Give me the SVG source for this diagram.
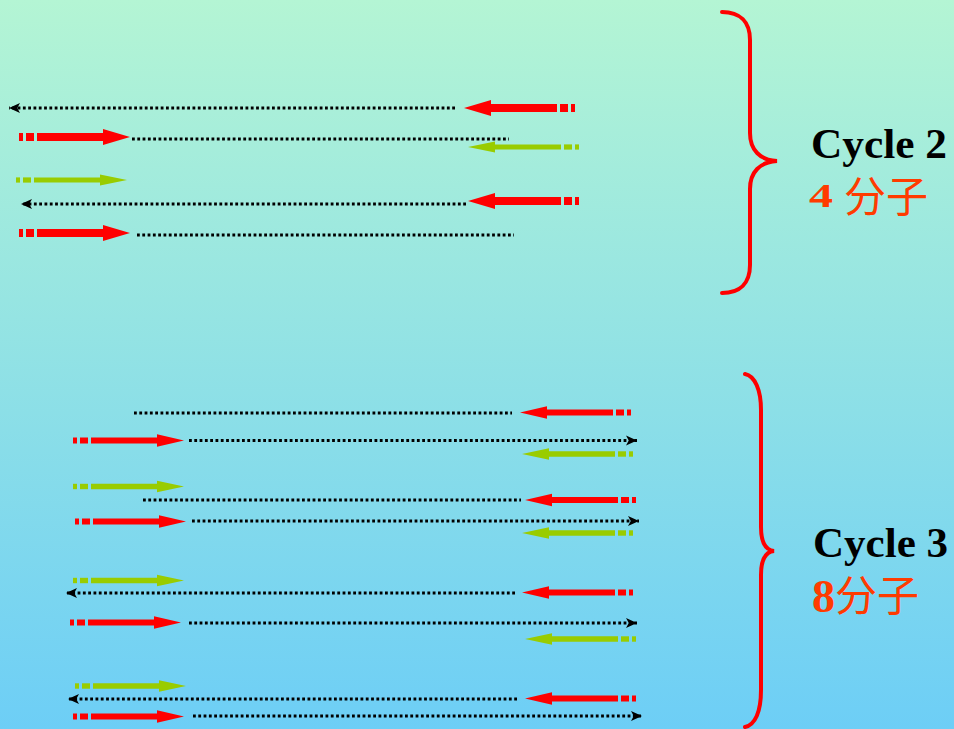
<svg xmlns="http://www.w3.org/2000/svg" xmlns:xlink="http://www.w3.org/1999/xlink" width="954" height="729" viewBox="0 0 954 729">
<style>
.dot{fill:none;stroke:#000;stroke-width:2.8;stroke-dasharray:2.8 2.5}
.red{fill:#ff0000}
.grn{fill:#99cc00}
.brace{fill:none;stroke:#ff0000;stroke-width:4;stroke-linecap:round}
.cyc{font-family:"Liberation Serif","Times New Roman",serif;font-weight:bold;font-size:42px;fill:#000}
.num{font-family:"Liberation Serif","Times New Roman",serif;font-weight:bold;fill:#ff3b00}
.cjk{font-family:"Noto Sans CJK SC","Noto Sans CJK JP",sans-serif;font-size:42px;fill:#ff3b00}
</style>
<defs>
<linearGradient id="bg" x1="0" y1="0" x2="0" y2="1">
<stop offset="0" stop-color="#b4f5d4"/>
<stop offset="1" stop-color="#6dcef6"/>
</linearGradient>
<marker id="head" markerUnits="userSpaceOnUse" viewBox="0 0 10 10" refX="10" refY="5" markerWidth="11" markerHeight="11" orient="auto">
<path d="M0,0.5 L10,5 L0,9.5 L2.5,5 z" fill="#000"/>
</marker>
<g id="red2" class="red"><rect x="0" y="-4" width="4" height="8"/><rect x="7" y="-4" width="8" height="8"/><path d="M18,-4 H84 V-8 L111,0 L84,8 V4 H18 z"/></g>
<g id="grn2" class="grn"><rect x="0" y="-2.6" width="4" height="5.2"/><rect x="7" y="-2.6" width="8" height="5.2"/><path d="M18,-2.6 H84 V-5.5 L111,0 L84,5.5 V2.6 H18 z"/></g>
<g id="red3" class="red"><rect x="0" y="-3" width="4" height="6"/><rect x="7" y="-3" width="8" height="6"/><path d="M18,-3 H84 V-6.2 L111,0 L84,6.2 V3 H18 z"/></g>
<g id="grn3" class="grn"><rect x="0" y="-2.7" width="4" height="5.4"/><rect x="7" y="-2.7" width="8" height="5.4"/><path d="M18,-2.7 H84 V-5.8 L111,0 L84,5.8 V2.7 H18 z"/></g>
</defs>
<rect width="954" height="729" fill="url(#bg)"/>

<g id="connectors">
<path class="dot" d="M455,108 L9,108" marker-end="url(#head)"/>
<path class="dot" d="M132,139 L509,139"/>
<path class="dot" d="M466,204 L21,204" marker-end="url(#head)"/>
<path class="dot" d="M137,235 L514,235"/>
<path class="dot" d="M134,413 L512,413"/>
<path class="dot" d="M189,440.5 L637,440.5" marker-end="url(#head)"/>
<path class="dot" d="M143,500 L521,500"/>
<path class="dot" d="M192,521 L639,521" marker-end="url(#head)"/>
<path class="dot" d="M515,593 L66,593" marker-end="url(#head)"/>
<path class="dot" d="M189,623 L637,623" marker-end="url(#head)"/>
<path class="dot" d="M517,699 L68,699" marker-end="url(#head)"/>
<path class="dot" d="M193,716 L642,716" marker-end="url(#head)"/>
</g>

<g id="cycle2-primers">
<use xlink:href="#red2" transform="translate(575,108) scale(-1,1)"/>
<use xlink:href="#red2" transform="translate(19,137)"/>
<use xlink:href="#grn2" transform="translate(579,147) scale(-1,1)"/>
<use xlink:href="#grn2" transform="translate(16,180)"/>
<use xlink:href="#red2" transform="translate(579,201) scale(-1,1)"/>
<use xlink:href="#red2" transform="translate(19,233)"/>
</g>

<g id="cycle3-primers">
<use xlink:href="#red3" transform="translate(631,412.5) scale(-1,1)"/>
<use xlink:href="#red3" transform="translate(73,440.5)"/>
<use xlink:href="#grn3" transform="translate(633,454) scale(-1,1)"/>
<use xlink:href="#grn3" transform="translate(73,486.5)"/>
<use xlink:href="#red3" transform="translate(636,500) scale(-1,1)"/>
<use xlink:href="#red3" transform="translate(75,521.5)"/>
<use xlink:href="#grn3" transform="translate(633,533) scale(-1,1)"/>
<use xlink:href="#grn3" transform="translate(73,580.5)"/>
<use xlink:href="#red3" transform="translate(633,592.5) scale(-1,1)"/>
<use xlink:href="#red3" transform="translate(70,622.5)"/>
<use xlink:href="#grn3" transform="translate(636,639) scale(-1,1)"/>
<use xlink:href="#grn3" transform="translate(75,686)"/>
<use xlink:href="#red3" transform="translate(636,698.5) scale(-1,1)"/>
<use xlink:href="#red3" transform="translate(73,716.5)"/>
</g>

<g id="brace2">
<path class="brace" d="M722,12 C740,12 750,22 750,40 L750,133 C750,150 760,160 777,161 C760,162 750,172 750,189 L750,265 C750,283 740,293 722,293"/>
</g>
<g id="brace3">
<path class="brace" d="M745,374 C755,376 761,390 761,410 L761,527 C761,542 765,550 774,551 C765,552 761,560 761,575 L761,690 C761,712 755,725 745,727"/>
</g>

<g id="label2">
<text class="cyc" x="811" y="158" textLength="136" lengthAdjust="spacingAndGlyphs">Cycle 2</text>
<text class="num" x="809" y="207" font-size="34" textLength="24" lengthAdjust="spacingAndGlyphs">4</text>
<text class="cjk" x="844" y="212">分子</text>
</g>
<g id="label3">
<text class="cyc" x="813" y="557" textLength="135" lengthAdjust="spacingAndGlyphs">Cycle 3</text>
<text class="num" x="812" y="612" font-size="46">8</text>
<text class="cjk" x="835" y="611">分子</text>
</g>
</svg>
